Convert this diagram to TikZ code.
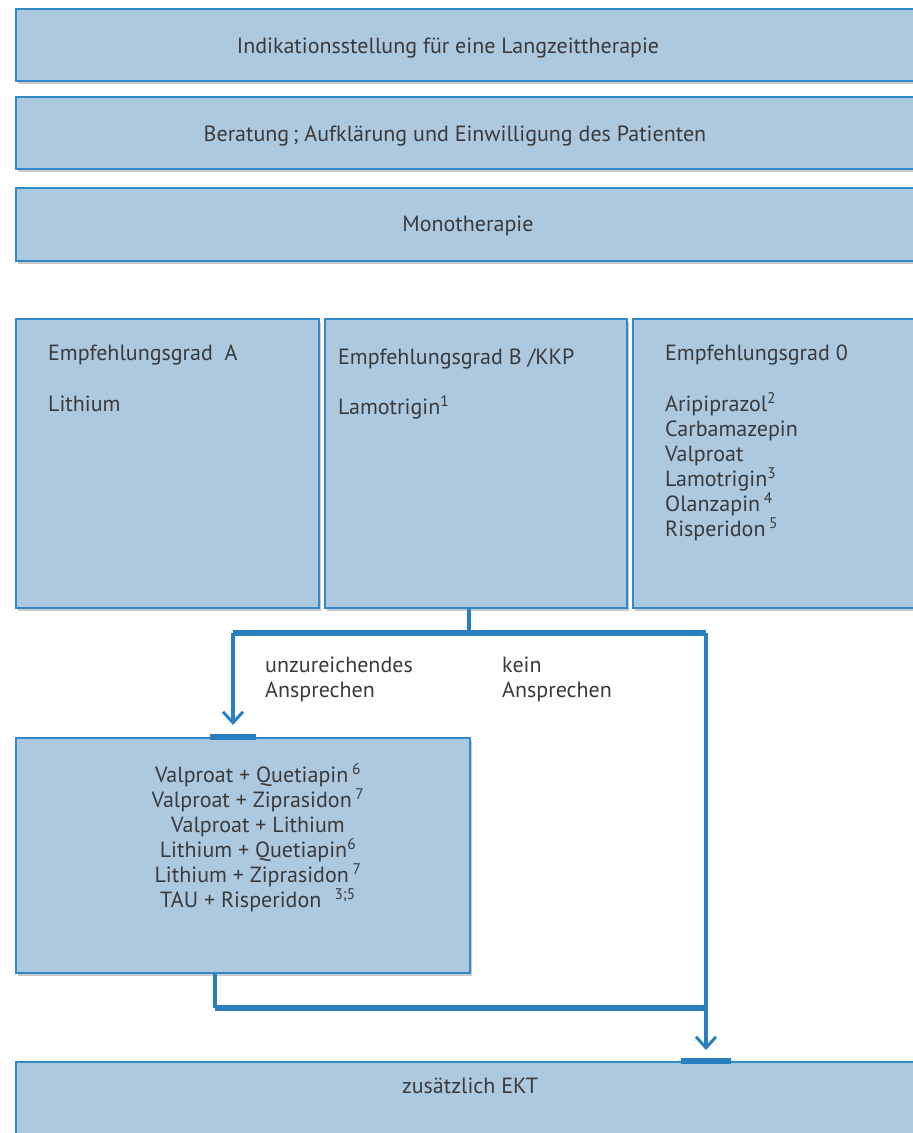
\documentclass[tikz,border=0pt]{standalone}
\usepackage{fontspec}
\setmainfont{PT Sans}
\usetikzlibrary{arrows.meta, calc, shadows}
\definecolor{boxfill}{HTML}{ADC9E0}
\definecolor{boxline}{HTML}{3189C8}
\definecolor{flowline}{HTML}{2A7FC0}
\definecolor{txtgray}{HTML}{3A3A3A}
\tikzset{
  box/.style={draw=boxline, line width=2pt, fill=boxfill, rectangle, anchor=north west,
    inner sep=0pt, drop shadow={shadow xshift=1.5pt, shadow yshift=-3pt, opacity=.35, fill=black!60}},
  txt/.style={text=txtgray, font=\fontsize{22}{25}\selectfont, inner sep=0pt},
  conn/.style={draw=flowline, line width=3.5pt},
  bar/.style={draw=flowline, line width=5.5pt},
  tip/.style={-{Straight Barb[length=11pt, width=20pt, line width=3pt]}},
}

\begin{document}
\begin{tikzpicture}[x=1pt, y=-1pt]
\useasboundingbox (0,0) rectangle (913,1133);
% Top boxes
\node[box, minimum width=915pt, minimum height=72pt] (indik) at (15,8) {};
\node[box, minimum width=915pt, minimum height=72pt] (beratung) at (15,96) {};
\node[box, minimum width=915pt, minimum height=73pt] (mono) at (15,187) {};
\node[txt, anchor=base] (indiktxt) at (448,53) {Indikationsstellung für eine Langzeittherapie};
\node[txt, anchor=base] (beratungtxt) at (455,141) {Beratung\,; Aufklärung und Einwilligung des Patienten};
\node[txt, anchor=base] (monotxt) at (468,231) {Monotherapie};
% Recommendation grades
\node[box, minimum width=303pt, minimum height=289pt] (gradA) at (15,318) {};
\node[box, minimum width=302pt, minimum height=289pt] (gradB) at (324,318) {};
\node[box, minimum width=300pt, minimum height=289pt] (grad0) at (632,318) {};
\node[txt, anchor=base west] (gradAhead) at (48,360) {Empfehlungsgrad~ A};
\node[txt, anchor=base west] (gradAdrug) at (48,411) {Lithium};
\node[txt, anchor=base west] (gradBhead) at (338,364) {Empfehlungsgrad B /KKP};
\node[txt, anchor=base west] (gradBdrug) at (338,414) {Lamotrigin\textsuperscript{1}};
\node[txt, anchor=base west] (grad0head) at (665,360) {Empfehlungsgrad 0};
\foreach \drug [count=\i] in {Aripiprazol\textsuperscript{2}, Carbamazepin, Valproat,
    Lamotrigin\textsuperscript{3}, Olanzapin\,\textsuperscript{4}, Risperidon\,\textsuperscript{5}}
  \node[txt, anchor=base west] (drug\i) at (665,386+25*\i) {\drug};
% Combination box
\node[box, minimum width=454pt, minimum height=235pt] (kombi) at (15,737) {};
\foreach \combo [count=\i] in {Valproat + Quetiapin\,\textsuperscript{6}, Valproat + Ziprasidon\,\textsuperscript{7},
    Valproat + Lithium, Lithium + Quetiapin\textsuperscript{6}, Lithium + Ziprasidon\,\textsuperscript{7},
    TAU + Risperidon\,\, \textsuperscript{3;5}}
  \node[txt, anchor=base] (combo\i) at (258,757+25*\i) {\combo};
% EKT box
\node[box, minimum width=915pt, minimum height=100pt] (ekt) at (15,1061) {};
\node[txt, anchor=base] (ekttxt) at (470,1093) {zusätzlich EKT};
% Response labels
\node[txt, anchor=base west] (unzu) at (265,672) {unzureichendes};
\node[txt, anchor=base west] (unzu2) at (265,697) {Ansprechen};
\node[txt, anchor=base west] (kein) at (502,672) {kein};
\node[txt, anchor=base west] (kein2) at (502,697) {Ansprechen};
% Connectors
\coordinate (split) at (469,633);
\coordinate (kombiin) at (233,725);
\coordinate (ektin) at (706,1050);
\coordinate (merge) at (215,1008);
\draw[conn] (gradB.south -| split) -- (split);
\draw[bar] (split -| kombiin) -- (split -| ektin);
\draw[conn, tip] (split -| kombiin) -- (kombiin);
\draw[conn, tip] (split -| ektin) -- (ektin);
\draw[conn] (kombi.south -| merge) -- (merge);
\draw[bar] (merge) -- (merge -| ektin);
% Inlet marks
\draw[bar] ($(kombi.north -| kombiin)+(-23,0)$) -- +(46,0);
\draw[bar] ($(ekt.north -| ektin)+(-25,0)$) -- +(50,0);
\end{tikzpicture}
\end{document}
